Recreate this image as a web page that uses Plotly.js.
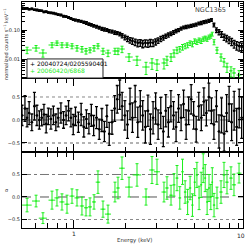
<!DOCTYPE html>
<html><head><meta charset="utf-8">
<script src="https://cdn.plot.ly/plotly-3.0.1.min.js"></script>
<style>html,body{margin:0;padding:0;background:#fff;}#chart{width:249px;height:249px;}</style>
</head><body><div id="chart"></div>
<script>
// ---- data ----
const blackEnergy = [0.50,0.52,0.535,0.55,0.57,0.59,0.61,0.63,0.65,0.67,
 0.69,0.71,0.735,0.76,0.785,0.81,0.84,0.87,0.90,0.93,
 0.96,0.99,1.02,1.06,1.10,1.14,1.18,1.22,1.26,1.30,
 1.35,1.40,1.45,1.50,1.55,1.60,1.66,1.72,1.78,1.84,
 1.90,1.97,2.04,2.11,2.18,2.26,2.34,2.42,2.50,2.59,
 2.68,2.77,2.87,2.97,3.07,3.18,3.29,3.40,3.52,3.64,
 3.77,3.90,4.03,4.17,4.31,4.46,4.61,4.77,4.93,5.10,
 5.28,5.46,5.65,5.84,6.04,6.25,6.46,6.68,6.91,7.15,
 7.40,7.65,7.91,8.18,8.46,8.75,9.05,9.35];
const blackCounts = [0.58,0.55,0.56,0.52,0.54,0.50,0.49,0.47,0.46,0.42,
 0.43,0.40,0.39,0.38,0.36,0.34,0.33,0.30,0.29,0.27,
 0.25,0.23,0.22,0.21,0.20,0.185,0.175,0.16,0.15,0.14,
 0.13,0.12,0.11,0.105,0.10,0.092,0.088,0.082,0.079,0.073,
 0.064,0.056,0.050,0.045,0.042,0.039,0.036,0.037,0.034,0.036,
 0.035,0.037,0.036,0.040,0.044,0.050,0.055,0.062,0.068,0.075,
 0.083,0.092,0.100,0.112,0.122,0.128,0.133,0.140,0.146,0.155,
 0.168,0.176,0.188,0.196,0.208,0.222,0.150,0.100,0.085,0.072,
 0.058,0.052,0.046,0.040,0.034,0.030,0.028,0.026];
const blackCountsRelErr = [0.06,0.05,0.06,0.05,0.06,0.05,0.06,0.06,0.05,0.06,
 0.06,0.05,0.06,0.06,0.05,0.06,0.06,0.07,0.06,0.06,
 0.07,0.06,0.08,0.09,0.08,0.09,0.10,0.09,0.10,0.10,
 0.11,0.10,0.11,0.12,0.11,0.12,0.12,0.13,0.12,0.14,
 0.16,0.18,0.20,0.22,0.24,0.25,0.27,0.26,0.28,0.27,
 0.28,0.27,0.26,0.24,0.22,0.20,0.18,0.17,0.16,0.15,
 0.14,0.13,0.12,0.12,0.11,0.12,0.11,0.12,0.11,0.12,
 0.11,0.12,0.11,0.12,0.11,0.10,0.14,0.18,0.20,0.22,
 0.24,0.25,0.26,0.28,0.30,0.32,0.33,0.35];
const blackResid = [0.10,0.25,0.05,0.15,-0.05,0.30,0.10,0.00,0.05,0.12,
 -0.08,0.08,0.02,0.10,-0.05,0.05,0.15,0.00,0.10,0.20,
 0.05,-0.10,0.08,-0.05,0.12,-0.15,0.02,-0.08,0.10,-0.12,
 0.05,-0.20,0.00,-0.25,0.08,-0.30,-0.05,0.25,0.45,0.55,
 0.30,0.10,-0.10,0.35,0.05,0.40,-0.05,0.30,0.10,-0.15,
 0.20,-0.20,0.05,0.25,-0.10,0.15,-0.25,0.20,-0.05,0.30,
 0.10,-0.15,0.25,0.05,0.35,-0.10,0.20,0.45,0.10,-0.20,
 0.30,0.05,0.40,0.15,0.50,0.20,-0.10,0.30,-0.25,0.10,
 -0.30,0.15,0.35,-0.05,0.20,-0.15,0.25,0.05];
const blackResidErr = [0.22,0.28,0.20,0.25,0.18,0.30,0.22,0.20,0.18,0.22,
 0.20,0.18,0.22,0.20,0.18,0.20,0.22,0.18,0.20,0.22,
 0.20,0.22,0.20,0.22,0.24,0.22,0.20,0.22,0.24,0.22,
 0.24,0.22,0.25,0.22,0.24,0.25,0.26,0.28,0.30,0.32,
 0.30,0.32,0.30,0.34,0.32,0.35,0.33,0.34,0.32,0.35,
 0.34,0.33,0.35,0.34,0.32,0.34,0.33,0.35,0.32,0.34,
 0.30,0.32,0.30,0.28,0.30,0.32,0.30,0.32,0.30,0.28,
 0.30,0.28,0.30,0.28,0.30,0.28,0.32,0.34,0.36,0.38,
 0.38,0.40,0.38,0.40,0.42,0.40,0.42,0.45];

const greenEnergy = [0.535,0.603,0.661,0.746,0.797,0.852,0.911,0.974,1.041,1.112,
 1.174,1.238,1.306,1.377,1.472,1.574,1.727,1.798,1.897,2.083,
 2.317,2.612,2.829,3.024,3.32,3.455,3.646,3.794,3.949,4.10,
 4.25,4.40,4.55,4.70,4.85,5.00,5.15,5.30,5.45,5.60,
 5.75,5.90,6.05,6.20,6.32,6.47,6.73,7.10,7.39,7.69,
 8.11,8.44,9.03];
const greenCounts = [0.0204,0.0239,0.0161,0.0304,0.0356,0.0304,0.0304,0.0281,0.0239,0.0221,
 0.0189,0.0204,0.0239,0.0281,0.0189,0.0161,0.0189,0.0189,0.0221,0.0117,
 0.0092,0.0053,0.0073,0.0067,0.0073,0.0092,0.0117,0.0161,0.0204,0.0221,
 0.0259,0.0281,0.0304,0.0356,0.0329,0.0418,0.0386,0.0452,0.0418,0.0490,
 0.0530,0.0490,0.0574,0.0621,0.0728,0.0386,0.0204,0.0117,0.0079,0.0053,
 0.0039,0.0033,0.0028];
const greenCountsRelErr = [0.25,0.22,0.28,0.20,0.18,0.20,0.18,0.20,0.22,0.22,
 0.22,0.20,0.22,0.20,0.24,0.25,0.24,0.25,0.25,0.30,
 0.35,0.45,0.40,0.40,0.38,0.35,0.30,0.28,0.25,0.22,
 0.22,0.20,0.20,0.18,0.20,0.18,0.18,0.17,0.18,0.17,
 0.16,0.17,0.16,0.16,0.15,0.20,0.24,0.28,0.32,0.35,
 0.38,0.40,0.42];
const greenResid = [-0.18,-0.09,-0.47,-0.07,-0.02,-0.11,-0.16,0.02,-0.02,-0.20,
 -0.24,-0.22,-0.11,0.33,-0.27,-0.38,0.11,0.20,0.64,0.22,
 0.49,0.00,0.60,0.56,0.11,0.20,0.04,0.27,0.42,-0.02,
 0.56,0.11,-0.11,0.20,-0.18,0.33,0.49,-0.02,0.27,0.64,
 0.42,-0.11,0.20,0.00,0.33,-0.18,-0.02,0.11,0.49,0.33,
 0.42,0.27,0.53];
const greenResidErr = [0.15,0.13,0.12,0.20,0.18,0.18,0.20,0.16,0.18,0.20,
 0.18,0.20,0.16,0.25,0.18,0.20,0.22,0.24,0.25,0.22,
 0.25,0.18,0.30,0.28,0.22,0.25,0.22,0.25,0.28,0.25,
 0.28,0.25,0.28,0.26,0.25,0.30,0.28,0.26,0.28,0.32,
 0.30,0.28,0.30,0.28,0.32,0.26,0.24,0.25,0.28,0.26,
 0.25,0.24,0.22];

const seriesNames = ['20040724/0205590401','20060420/6868'];
const xTickVals = [1];
const xTickText = ['1'];
const xMinorVals = [0.5,0.6,0.7,0.8,0.9,2,3,4,5,6,7,8,9];
const residTickVals = [-0.5,0,0.5];
const residTickText = ['\u22120.5','0.0','0.5'];
const countTickVals = [0.01,0.1];
const countTickText = ['0.01','0.10'];
const countMinorVals = [0.003,0.004,0.005,0.006,0.007,0.008,0.009,0.02,0.03,0.04,0.05,0.06,0.07,0.08,0.09,0.2,0.3,0.4,0.5,0.6,0.7,0.8,0.9];

// ---- derived tables ----
function halfWidths(e){
  return e.map((v,i)=>{
    const lo = i>0 ? e[i-1] : e[i]-(e[i+1]-e[i]);
    const hi = i<e.length-1 ? e[i+1] : e[i]+(e[i]-e[i-1]);
    return (hi-lo)/4;
  });
}
const blackXErr = halfWidths(blackEnergy);
const greenXErr = halfWidths(greenEnergy);
const blackCountErr = blackCounts.map((v,i)=>v*blackCountsRelErr[i]);
const greenCountErr = greenCounts.map((v,i)=>v*greenCountsRelErr[i]);

const BLACK = '#000000', GREEN = '#1aee1a';
function tr(x,y,ex,ey,color,xa,ya,th,cap,ms){
  return {type:'scatter',mode:'markers',x:x,y:y,xaxis:xa,yaxis:ya,
    marker:{size:ms,color:color},showlegend:false,hoverinfo:'skip',
    error_x:{type:'data',array:ex,color:color,thickness:th,width:0},
    error_y:{type:'data',array:ey,color:color,thickness:th,width:cap}};
}
const data = [
  tr(blackEnergy,blackCounts,blackXErr,blackCountErr,BLACK,'x3','y3',1.3,1.5,2.5),
  tr(greenEnergy,greenCounts,greenXErr,greenCountErr,GREEN,'x3','y3',1,1.5,1.5),
  tr(blackEnergy,blackResid,blackXErr,blackResidErr,BLACK,'x2','y2',1.3,1.5,2.5),
  tr(greenEnergy,greenResid,greenXErr,greenResidErr,GREEN,'x','y',1,1.5,1.5)
];

const FONT = 'DejaVu Sans';
function xax(anchor, labels){
  return {type:'log',range:[Math.log10(0.5),0.9786],anchor:anchor,
    showline:true,linecolor:'#000',linewidth:1,mirror:'ticks',
    ticks:'inside',ticklen:8,tickwidth:1,tickcolor:'#000',
    tickvals:xTickVals,ticktext:xTickText,showticklabels:labels,
    tickfont:{family:FONT,size:6,color:'#222'},
    minor:{ticks:'inside',ticklen:5,tickcolor:'#000',tickvals:xMinorVals,showgrid:false},
    showgrid:false,zeroline:false};
}
function yax(dom,range,vals,text,anchor){
  return {domain:dom,range:range,anchor:anchor,
    showline:true,linecolor:'#000',linewidth:1,mirror:'ticks',
    ticks:'inside',ticklen:5,tickwidth:1,tickcolor:'#000',
    tickvals:vals,ticktext:text,tickfont:{family:FONT,size:5,color:'#222'},
    showgrid:false,zeroline:false};
}
const y3 = yax([0.6637,1],[-2.655,-0.0345],countTickVals,countTickText,'x3');
y3.type='log';
y3.minor={ticks:'inside',ticklen:3,tickcolor:'#000',tickvals:countMinorVals,showgrid:false};

function hline(yref,yv,color,dash,w){
  return {type:'line',xref:'paper',x0:0,x1:1,yref:yref,y0:yv,y1:yv,layer:'below',
    line:{color:color,dash:dash,width:w}};
}
const layout = {
  width:249,height:249,margin:{l:22,r:6,t:2,b:21},
  paper_bgcolor:'#fff',plot_bgcolor:'#fff',
  font:{family:FONT,size:6,color:'#222'},
  showlegend:false,
  xaxis:xax('y',true),
  xaxis2:Object.assign(xax('y2',false),{matches:'x'}),
  xaxis3:Object.assign(xax('y3',false),{matches:'x'}),
  yaxis:yax([0,0.3363],[-0.689,1.0],residTickVals,residTickText,'x'),
  yaxis2:yax([0.3363,0.6637],[-0.696,0.913],residTickVals,residTickText,'x2'),
  yaxis3:y3,
  shapes:[
    hline('y2',0.5,'#888','dot',1),
    hline('y2',0,'#777','dash',1),
    hline('y2',-0.5,'#999','dot',1.6),
    hline('y',0.5,'#777','dashdot',1),
    hline('y',0,'#555','dash',1),
    hline('y',-0.5,'#888','dot',1),
    {type:'rect',xref:'paper',yref:'paper',x0:0.0226,x1:0.3665,y0:0.6637,y1:0.748,
     layer:'above',fillcolor:'#fff',line:{color:'#222',width:1}}
  ],
  annotations:[
    {xref:'paper',yref:'paper',x:0.028,y:0.7257,xanchor:'left',yanchor:'middle',showarrow:false,
     text:'+ '+seriesNames[0],font:{family:FONT,size:6,color:'#000'}},
    {xref:'paper',yref:'paper',x:0.028,y:0.6947,xanchor:'left',yanchor:'middle',showarrow:false,
     text:'+ '+seriesNames[1],font:{family:FONT,size:6,color:GREEN}},
    {xref:'paper',yref:'paper',x:0.855,y:0.9646,xanchor:'center',yanchor:'middle',showarrow:false,
     text:'NGC1365',font:{family:FONT,size:6.5,color:'#444'}},
    {xref:'paper',yref:'paper',x:-0.0724,y:0.814,xanchor:'center',yanchor:'middle',showarrow:false,
     textangle:-90,text:'normalized counts s<sup>\u22121</sup> keV<sup>\u22121</sup>',font:{family:FONT,size:5,color:'#333'}},
    {xref:'paper',yref:'paper',x:-0.068,y:0.168,xanchor:'center',yanchor:'middle',showarrow:false,
     text:'\u03c3',font:{family:FONT,size:5,color:'#333'}},
    {xref:'paper',yref:'paper',x:0.511,y:-0.0575,xanchor:'center',yanchor:'middle',showarrow:false,
     text:'Energy (keV)',font:{family:FONT,size:5.5,color:'#333'}},
    {xref:'paper',yref:'paper',x:1.018,y:-0.031,xanchor:'right',yanchor:'middle',showarrow:false,
     text:'10',font:{family:FONT,size:6,color:'#222'}}
  ]
};
Plotly.newPlot('chart',data,layout,{staticPlot:true,displayModeBar:false});
</script></body></html>
